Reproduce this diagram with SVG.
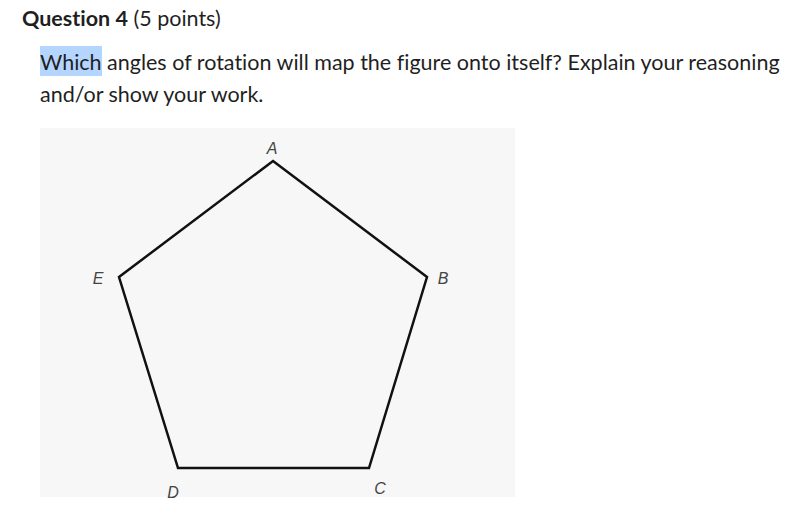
<svg xmlns="http://www.w3.org/2000/svg" width="800" height="515" viewBox="0 0 800 515">
<style>
.t{font-family:Lato,"Open Sans",sans-serif;font-size:21.5px;fill:#1f1f1f;font-variant-ligatures:none}
.lbl{font-family:"Liberation Sans",Arial,sans-serif;font-size:16px;font-style:italic;fill:#444;text-anchor:middle}
</style>
<rect width="800" height="515" fill="#fff"/>
<text class="t" x="22" y="26"><tspan font-weight="bold">Question 4</tspan> (5 points)</text>
<rect x="40" y="46" width="62" height="30" fill="#b4d5fe"/>
<text class="t" x="40" y="70">Which angles of rotation will map the figure onto itself? Explain your reasoning</text>
<text class="t" x="40" y="102">and/or show your work.</text>
<rect x="40" y="128" width="475" height="369" fill="#f7f7f7"/>
<g id="pentagon">
<polygon points="273,161 427,277 369,468 178,468 119,277" fill="none" stroke="#111" stroke-width="2.5" stroke-linejoin="miter"/>
</g>
<g id="labels">
<text class="lbl" x="272" y="154">A</text>
<text class="lbl" x="443" y="284">B</text>
<text class="lbl" x="380" y="494">C</text>
<text class="lbl" x="173" y="498">D</text>
<text class="lbl" x="98" y="284">E</text>
</g>
</svg>
